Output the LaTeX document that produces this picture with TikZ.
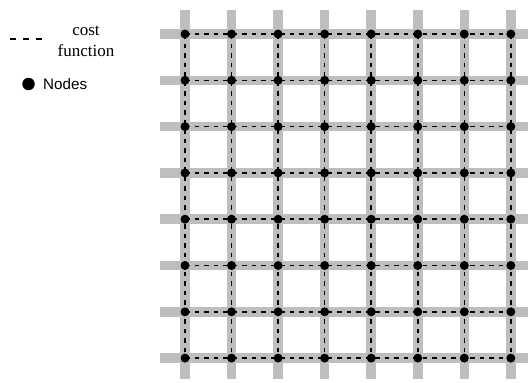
\documentclass[tikz,border=0pt]{standalone}
\usepackage{fontspec}
\setmainfont{Liberation Serif}
\newfontfamily\legsans{Liberation Sans}
\definecolor{bargray}{HTML}{BEBEBE}
\begin{document}
\begin{tikzpicture}[x=1pt,y=-1pt,
  bar/.style={draw=bargray,line width=9.5pt},
  cost/.style={draw=black,line width=1.6pt,dash pattern=on 4.5pt off 5pt},
  dot/.style={circle,fill=black,inner sep=0pt,minimum size=9pt},
  legdot/.style={circle,fill=black,inner sep=0pt,minimum size=12.5pt}]
\useasboundingbox (0,0) rectangle (528,383);
% gray bars
\foreach \i in {0,...,7}{
  \pgfmathsetmacro{\xx}{185+46.55*\i}
  \pgfmathsetmacro{\yy}{34+46.3*\i}
  \coordinate (vt\i) at (\xx,10);
  \coordinate (vb\i) at (\xx,379);
  \coordinate (hl\i) at (160,\yy);
  \coordinate (hr\i) at (528,\yy);
  \draw[bar] (vt\i) -- (vb\i);
  \draw[bar] (hl\i) -- (hr\i);
}
% nodes
\foreach \i in {0,...,7}{
  \foreach \j in {0,...,7}{
    \pgfmathsetmacro{\xx}{185+46.55*\i}
    \pgfmathsetmacro{\yy}{34+46.3*\j}
    \coordinate (n-\i-\j) at (\xx,\yy);
  }
}
% dashed cost lines
\foreach \i in {0,...,7}{
  \draw[cost] (n-0-\i) -- (n-7-\i);
  \draw[cost] (n-\i-0) -- (n-\i-7);
}
\foreach \i in {0,...,7}{
  \foreach \j in {0,...,7}{
    \node[dot] (d-\i-\j) at (n-\i-\j) {};
  }
}
% legend
\coordinate (la) at (10,39);
\coordinate (lb) at (44,39);
\draw[draw=black,line width=2pt,dash pattern=on 6pt off 7pt] (la) -- (lb);
\node[align=center,font=\fontsize{17}{21}\selectfont,inner sep=0pt] (lcost) at (86,41) {cost\\function};
\node[legdot] (ldot) at (28.5,84) {};
\node[anchor=west,font=\legsans\fontsize{15.2}{18}\selectfont,inner sep=0pt] (lnodes) at (43,84) {Nodes};
\end{tikzpicture}
\end{document}
